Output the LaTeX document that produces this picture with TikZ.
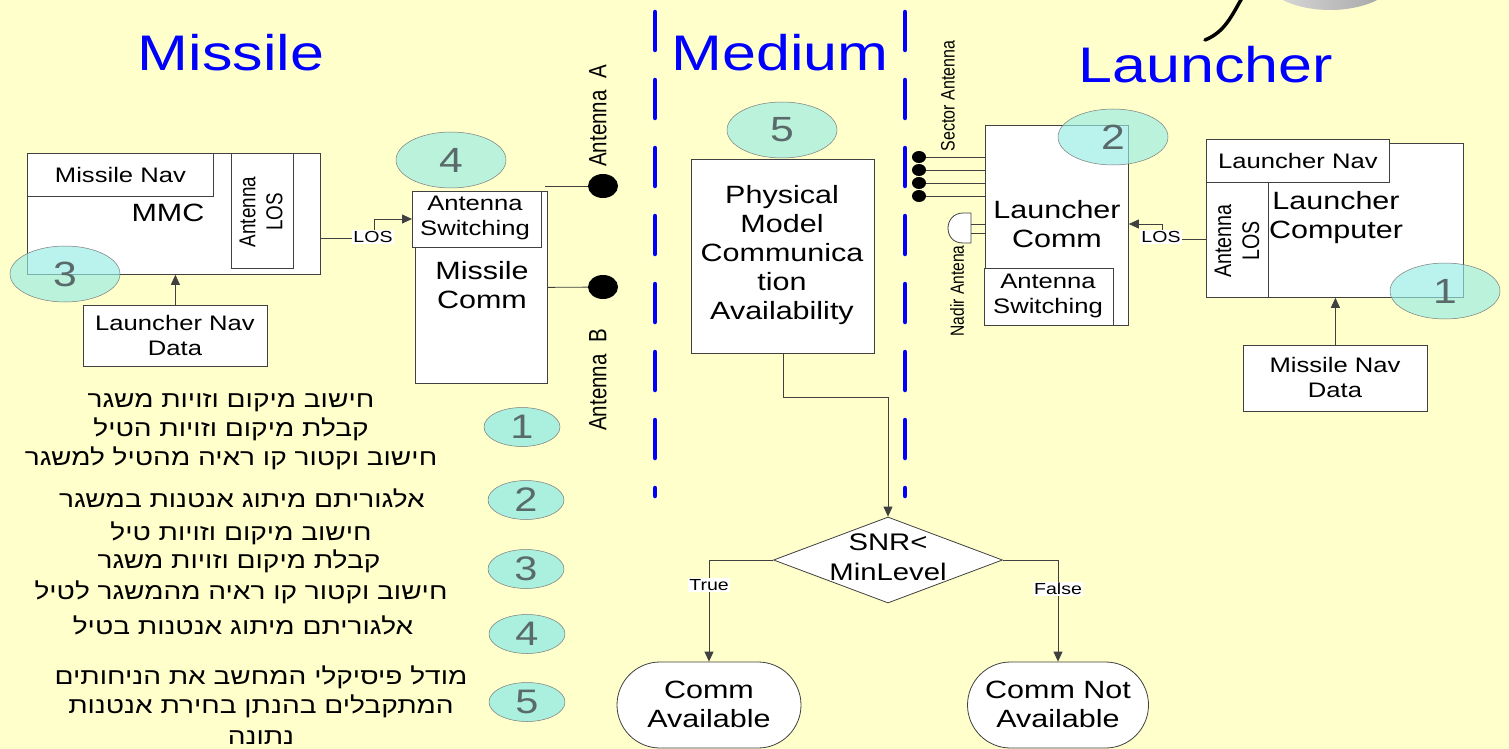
\documentclass[tikz,border=0pt]{standalone}
\usepackage{fontspec}
\setmainfont{Liberation Sans}[FakeStretch=1.22]
\newfontfamily\rotfont{Liberation Sans}[FakeStretch=0.82]
\newfontfamily\hebfont[Script=Hebrew,FakeStretch=1.22]{Liberation Sans}
\TeXXeTstate=1
\usetikzlibrary{arrows.meta,shapes.geometric,shapes.misc}

\definecolor{bg}{RGB}{255,255,204}
\definecolor{ttl}{RGB}{0,0,255}
\definecolor{edge}{RGB}{64,64,64}
\definecolor{tag}{RGB}{150,236,228}
\definecolor{tagtext}{RGB}{90,105,105}
\newcommand\fsz[2]{\fontsize{#1}{#2}\selectfont}

\tikzset{
  box/.style={draw=edge, fill=white, line width=0.8pt, inner sep=0pt, anchor=north west},
  tagell/.style={ellipse, draw=edge!70, line width=0.5pt, fill=tag, fill opacity=0.65,
    text opacity=1, text=tagtext, minimum width=110, minimum height=56, inner sep=0pt,
    font=\fsz{35}{40}},
  smalltag/.style={tagell, minimum width=76, minimum height=39, fill opacity=0.8, font=\fsz{34}{38}},
  title/.style={text=ttl, font=\fsz{50}{56}},
  wire/.style={draw=edge, line width=0.8pt},
  arr/.style={wire, -{Triangle[length=10pt,width=9pt]}},
  lbl/.style={fill=white, inner sep=1pt, font=\fsz{16}{18}},
  bigtxt/.style={align=center, font=\fsz{25}{29}},
  midtxt/.style={align=center, font=\fsz{21}{25}},
  sidetxt/.style={rotate=90, align=center, font=\rotfont\fsz{23}{27}},
  divider/.style={draw=ttl, line width=4.5pt, dash pattern=on 38pt off 30pt, line cap=round},
  dot/.style={ellipse, fill=black, inner sep=0pt},
  heb/.style={anchor=base, font=\hebfont\fsz{23}{28}},
}

\begin{document}
\begin{tikzpicture}[x=1pt,y=-1pt]
\fill[bg] (0,0) rectangle (1509,749);
\useasboundingbox (0,0) rectangle (1509,749);

% dish and cable peeking in at the top edge
\begin{scope}
  \clip (0,0) rectangle (1509,749);
  \shade[left color=gray!25, right color=gray!75] (1330,-28) ellipse [x radius=70, y radius=38];
  \draw[line width=3.5pt, line cap=round] (1205,40) .. controls (1225,32) and (1232,15) .. (1242,-2);
\end{scope}

% section dividers
\draw[divider] (655,12) -- (655,496);
\draw[divider] (905,12) -- (905,496);

% section titles
\node[title] (tmis) at (231,53) {Missile};
\node[title] (tmed) at (780,53) {Medium};
\node[title] (tlau) at (1206,65) {Launcher};

% ---------------- missile side ----------------
\node[box, minimum width=293, minimum height=121] (mmc) at (27,153) {};
\node[box, minimum width=186, minimum height=43, font=\fsz{21}{25}] (mnav) at (27,153) {Missile Nav};
\node[box, minimum width=62, minimum height=115] (mlos) at (231,153) {};
\node[sidetxt] (mlostxt) at (261,212) {Antenna\\LOS};
\node[font=\fsz{25}{29}] (mmctxt) at (168,213) {MMC};

\node[box, minimum width=184, minimum height=61] (lnd) at (83,305) {};
\node[midtxt] (lndtxt) at (175,335) {Launcher Nav\\Data};
\draw[arr] (lnd.north) -- (lnd.north |- mmc.south);

\node[box, minimum width=132, minimum height=192] (mcomm) at (415,191) {};
\node[box, minimum width=129, minimum height=56] (aswm) at (412,191) {};
\node[midtxt] (aswmtxt) at (475,218) {Antenna\\Switching};
\node[bigtxt] (mcommtxt) at (482,285) {Missile\\Comm};

\draw[arr] (mmc.east |- 0,238) -- (374,238) -- (374,219) -- (aswm.west |- 0,219);
\node[lbl] (mlosl) at (373,237) {LOS};

\node[dot, minimum width=30, minimum height=24] (anta) at (603,186) {};
\node[dot, minimum width=30, minimum height=24] (antb) at (603,287) {};
\coordinate (atap) at (545,186);
\draw[wire] (atap) -- (anta);
\draw[wire] (mcomm.east) -- (antb);
\node[sidetxt, font=\rotfont\fsz{25}{29}] (antatxt) at (598,116) {Antenna\ \ A};
\node[sidetxt, font=\rotfont\fsz{25}{29}] (antbtxt) at (598,380) {Antenna\ \ B};

\node[tagell] (t3) at (65,274) {3};
\node[tagell] (t4) at (451,160) {4};

% ---------------- medium ----------------
\node[box, minimum width=183, minimum height=194] (phys) at (691,159) {};
\node[bigtxt] (phystxt) at (782,255) {Physical\\Model\\Communica\\tion\\Availability};
\node[tagell] (t5) at (782,130) {5};

\node[diamond, draw=edge, fill=white, line width=0.8pt, inner sep=0pt,
      minimum width=229, minimum height=86] (snr) at (888,560) {};
\node[align=center, font=\fsz{24}{30}] (snrtxt) at (888,557) {SNR<\\MinLevel};
\draw[arr] (phys.south) -- (phys.south |- 0,397) -| (snr.north);

\node[rounded rectangle, draw=edge, fill=white, line width=0.8pt, inner sep=0pt,
      minimum width=184, minimum height=86] (avail) at (709,705) {};
\node[bigtxt] (availtxt) at (709,704) {Comm\\Available};
\node[rounded rectangle, draw=edge, fill=white, line width=0.8pt, inner sep=0pt,
      minimum width=181, minimum height=86] (navail) at (1058,705) {};
\node[bigtxt] (navailtxt) at (1058,704) {Comm Not\\Available};

\draw[arr] (snr.west) -| (avail.north);
\draw[arr] (snr.east) -| (navail.north);
\node[lbl] (ltrue) at (709,585) {True};
\node[lbl] (lfalse) at (1058,589) {False};

% ---------------- launcher side ----------------
\node[box, minimum width=143, minimum height=200] (lcomm) at (985,125) {};
\node[bigtxt] (lcommtxt) at (1057,224) {Launcher\\Comm};
\node[box, minimum width=129, minimum height=57] (aswl) at (984,268) {};
\node[midtxt] (aswltxt) at (1048,296) {Antenna\\Switching};
\node[tagell] (t2) at (1113,137) {2};

\foreach \i/\yy in {1/157,2/170,3/183,4/196}{
  \node[dot, minimum width=14, minimum height=12] (sa\i) at (919,\yy) {};
  \draw[wire] (sa\i) -- (sa\i -| lcomm.west);
}
\node[sidetxt, font=\rotfont\fsz{19.5}{22}] (sectxt) at (948,96) {Sector Antenna};

% nadir antenna (half dome)
\draw[edge, fill=white, line width=0.8pt] (971,213) -- (963,213)
  .. controls (953,213) and (948,221) .. (948,228)
  .. controls (948,236) and (953,243) .. (963,243) -- (971,243) -- cycle;
\coordinate (nad1) at (971,224);
\coordinate (nad2) at (971,233);
\draw[wire] (nad1) -- (nad1 -| lcomm.west);
\draw[wire] (nad2) -- (nad2 -| lcomm.west);
\node[sidetxt, font=\rotfont\fsz{19}{22}] (nadtxt) at (957,291) {Nadir Antena};

\node[box, minimum width=257, minimum height=154] (lcomp) at (1206,143) {};
\node[box, minimum width=183, minimum height=43, font=\fsz{21}{25}] (lnav) at (1206,139) {Launcher Nav};
\node[box, minimum width=62, minimum height=115] (llos) at (1206,182) {};
\node[sidetxt, font=\rotfont\fsz{24}{28}] (llostxt) at (1237,241) {Antenna\\LOS};
\node[bigtxt] (lcomptxt) at (1336,218) {Launcher\\Computer};
\node[tagell] (t1) at (1445,291) {1};

\draw[arr] (llos.west |- 0,239) -- (1162,239) -- (1162,224) -- (lcomm.east |- 0,224);
\node[lbl] (llosl) at (1161,237) {LOS};

\node[box, minimum width=184, minimum height=66] (mnd) at (1243,345) {};
\node[midtxt] (mndtxt) at (1335,377) {Missile Nav\\Data};
\draw[arr] (mnd.north) -- (mnd.north |- lcomp.south);

% ---------------- legend ----------------
\node[heb] (h1) at (231,407) {\beginR חישוב מיקום וזויות משגר\endR};
\node[heb] (h2) at (231,436) {\beginR קבלת מיקום וזויות הטיל\endR};
\node[heb] (h3) at (231,465) {\beginR חישוב וקטור קו ראיה מהטיל למשגר\endR};
\node[heb] (h4) at (242,507) {\beginR אלגוריתם מיתוג אנטנות במשגר\endR};
\node[heb] (h5) at (241,540) {\beginR חישוב מיקום וזויות טיל\endR};
\node[heb] (h6) at (239,568) {\beginR קבלת מיקום וזויות משגר\endR};
\node[heb] (h7) at (241,599) {\beginR חישוב וקטור קו ראיה מהמשגר לטיל\endR};
\node[heb] (h8) at (243,634) {\beginR אלגוריתם מיתוג אנטנות בטיל\endR};
\node[heb] (h9) at (261,684) {\beginR מודל פיסיקלי המחשב את הניחותים\endR};
\node[heb] (h10) at (261,713) {\beginR המתקבלים בהנתן בחירת אנטנות\endR};
\node[heb] (h11) at (261,744) {\beginR נתונה\endR};

\node[smalltag] (k1) at (522,427) {1};
\node[smalltag] (k2) at (526,500) {2};
\node[smalltag] (k3) at (526,569) {3};
\node[smalltag] (k4) at (527,634) {4};
\node[smalltag] (k5) at (527,702) {5};
\end{tikzpicture}
\end{document}
